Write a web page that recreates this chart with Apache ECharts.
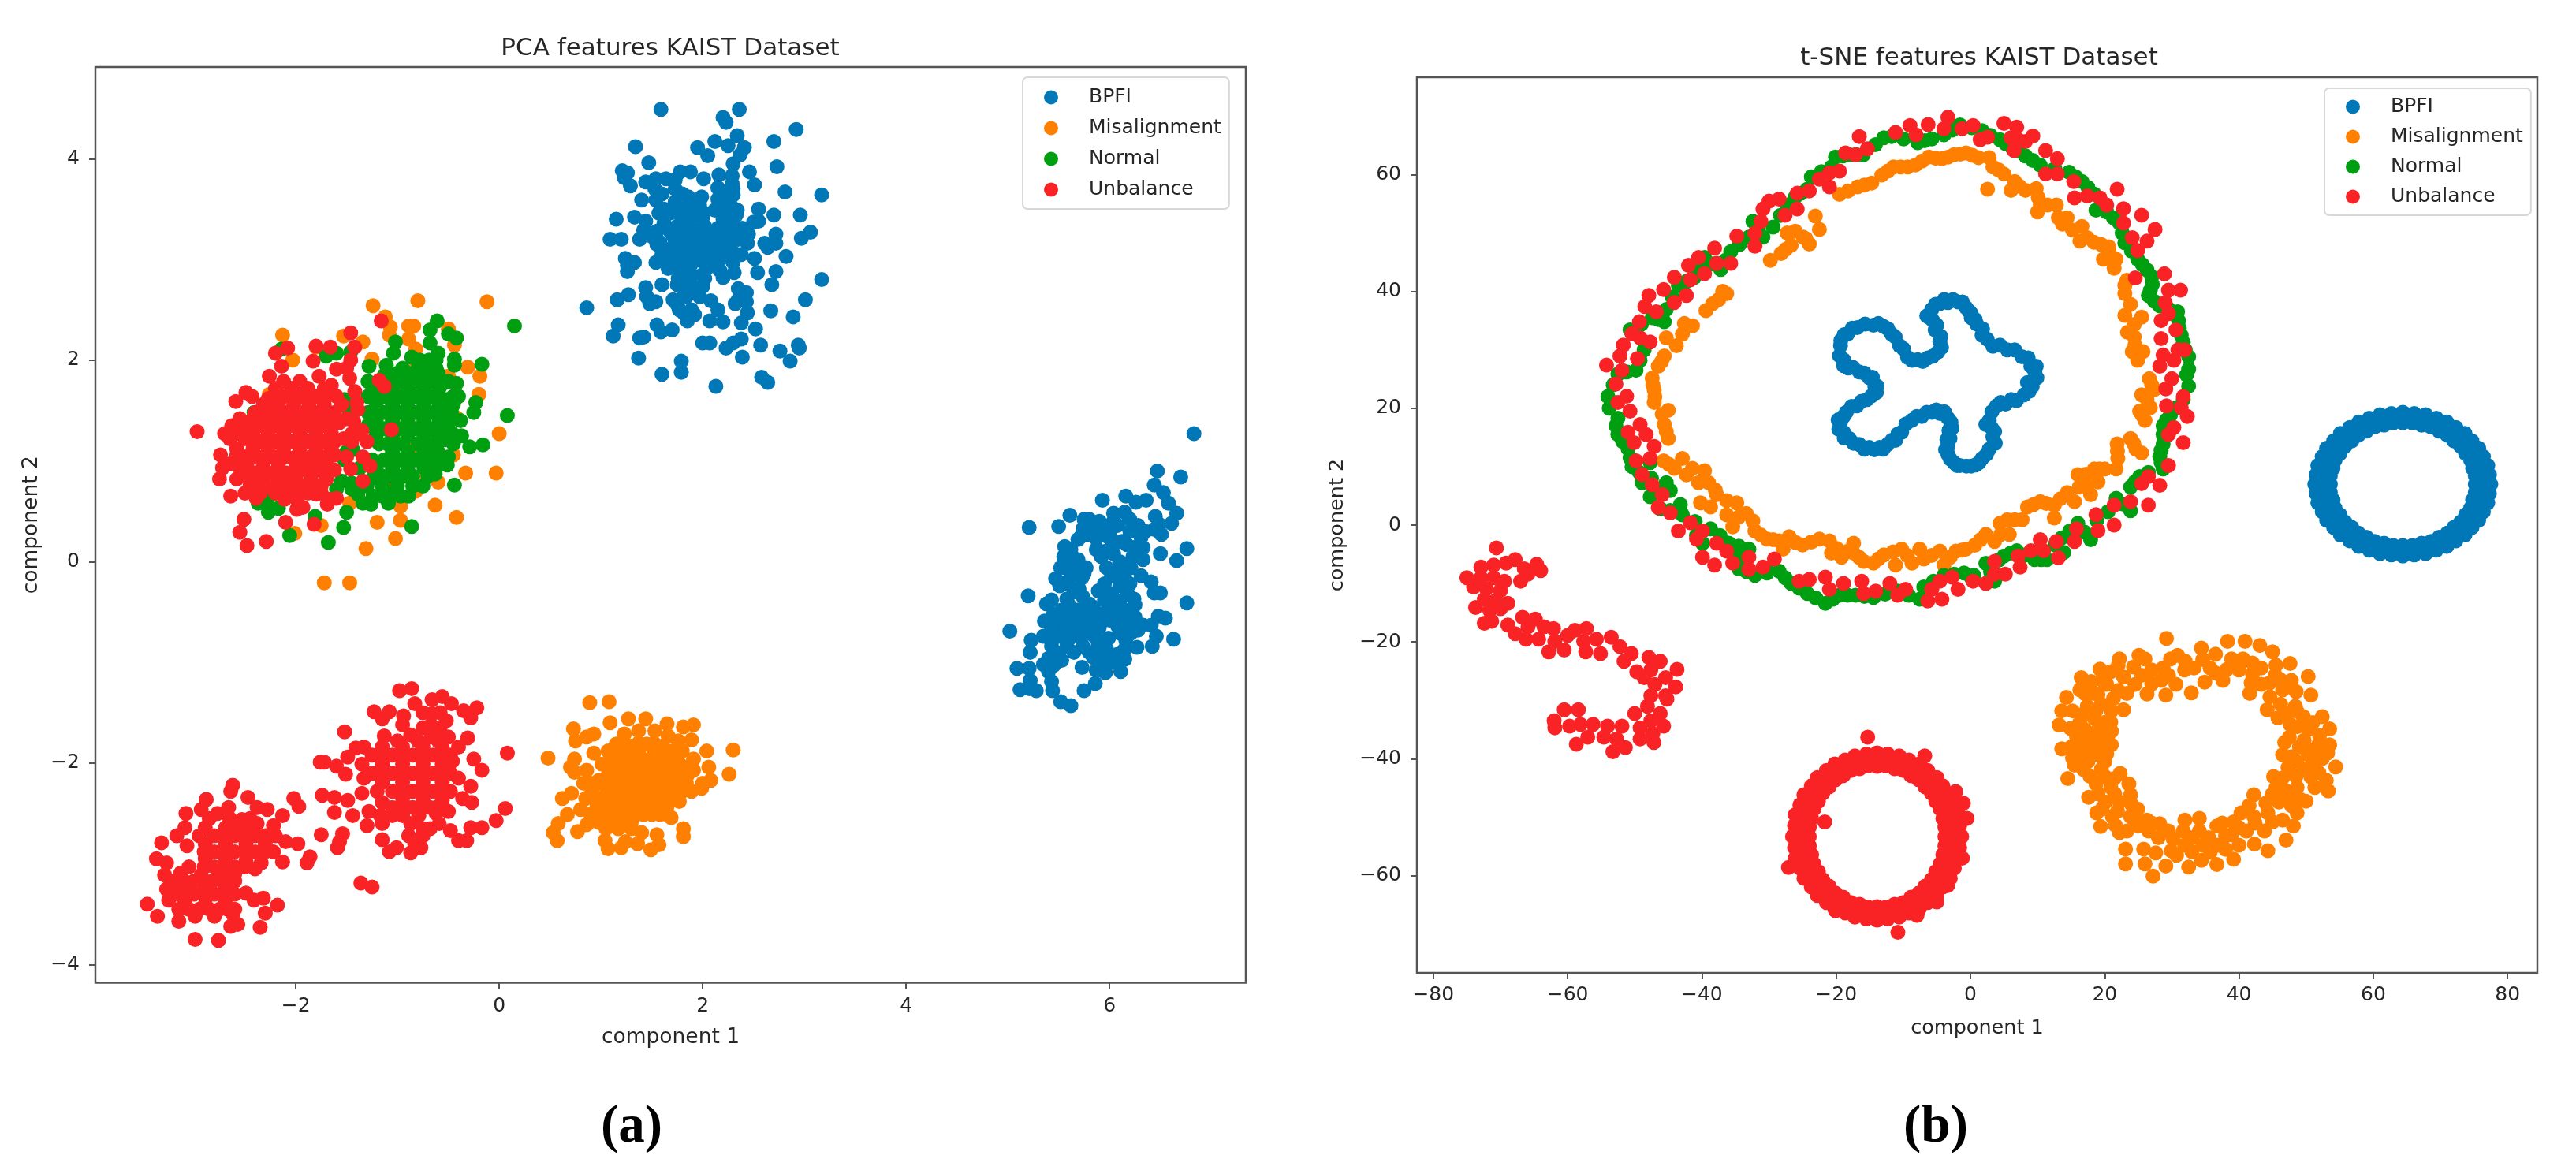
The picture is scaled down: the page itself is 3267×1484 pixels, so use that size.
<!DOCTYPE html>
<html><head><meta charset="utf-8"><title>KAIST features</title>
<script src="https://cdn.jsdelivr.net/npm/echarts@6/dist/echarts.min.js"></script>
<style>html,body{margin:0;padding:0;background:#fff}#c{width:3267px;height:1484px}</style></head>
<body><div id="c"></div>
<script>
const categories = ['BPFI','Misalignment','Normal','Unbalance'];
const pcaXTicks = [-2,0,2,4,6];
const pcaYTicks = [-4,-2,0,2,4];
const tsneXTicks = [-80,-60,-40,-20,0,20,40,60,80];
const tsneYTicks = [-60,-40,-20,0,20,40,60];

const pcaBpfi = [[1.59,4.49],[2.36,4.49],[2.20,4.41],[2.23,4.36],[2.92,4.29],[2.34,4.23],[2.12,4.17],[2.70,4.17],[1.34,4.12],[1.95,4.11],[2.25,4.13],[2.41,4.11],[2.05,4.03],[2.37,4.04],[1.47,3.96],[2.30,3.95],[2.73,3.92],[1.21,3.88],[1.26,3.86],[1.23,3.81],[1.29,3.73],[2.46,3.87],[2.51,3.74],[1.78,3.87],[1.88,3.87],[2.01,3.80],[2.16,3.84],[1.44,3.77],[1.54,3.80],[1.64,3.80],[1.73,3.79],[2.29,3.83],[2.81,3.67],[3.17,3.64],[1.40,3.59],[1.53,3.70],[1.54,3.59],[1.73,3.70],[2.15,3.71],[2.29,3.75],[2.30,3.64],[2.15,3.60],[2.25,3.57],[1.86,3.62],[1.99,3.62],[1.73,3.57],[1.97,3.54],[1.84,3.51],[2.34,3.49],[2.55,3.50],[2.70,3.44],[2.96,3.44],[1.33,3.42],[1.15,3.40],[1.44,3.38],[1.57,3.46],[1.68,3.46],[1.81,3.41],[1.94,3.44],[2.12,3.49],[2.22,3.49],[2.33,3.44],[2.50,3.37],[2.55,3.38],[1.62,3.36],[1.75,3.33],[1.89,3.33],[2.02,3.33],[2.15,3.31],[2.28,3.33],[2.39,3.31],[1.42,3.29],[3.06,3.27],[2.97,3.21],[2.72,3.25],[1.09,3.20],[1.20,3.20],[1.38,3.20],[1.55,3.15],[1.71,3.23],[1.84,3.20],[1.97,3.23],[2.10,3.18],[2.22,3.18],[2.35,3.20],[2.44,3.16],[2.61,3.16],[2.72,3.16],[2.64,3.12],[1.67,3.10],[1.79,3.10],[1.91,3.12],[2.04,3.10],[2.17,3.10],[2.30,3.07],[2.38,3.05],[2.82,3.03],[2.51,3.01],[1.24,3.01],[1.33,2.97],[1.26,2.94],[1.26,2.88],[1.54,2.97],[1.64,2.99],[1.76,2.99],[1.97,2.99],[2.10,3.02],[2.20,3.02],[1.66,2.91],[1.82,2.91],[2.04,2.91],[2.17,2.89],[2.31,2.87],[2.54,2.87],[2.72,2.88],[3.17,2.80],[2.68,2.75],[1.76,2.81],[1.89,2.84],[2.02,2.81],[2.20,2.82],[1.44,2.72],[1.60,2.75],[1.81,2.71],[1.94,2.71],[2.35,2.71],[2.43,2.67],[1.27,2.65],[1.16,2.60],[1.45,2.63],[1.54,2.58],[1.48,2.56],[1.71,2.60],[1.84,2.63],[1.97,2.63],[2.08,2.59],[2.35,2.60],[2.32,2.56],[2.43,2.58],[3.01,2.60],[0.86,2.52],[2.67,2.49],[1.77,2.50],[1.89,2.50],[2.15,2.50],[2.44,2.47],[2.89,2.43],[1.85,2.39],[2.07,2.39],[2.20,2.38],[2.38,2.37],[1.17,2.35],[1.55,2.35],[1.70,2.30],[1.59,2.28],[2.52,2.31],[1.12,2.24],[1.38,2.22],[1.42,2.23],[2.38,2.21],[2.00,2.17],[2.07,2.17],[2.30,2.17],[2.23,2.12],[2.57,2.15],[2.94,2.15],[2.95,2.12],[2.76,2.09],[1.37,2.02],[2.39,2.03],[2.86,1.99],[1.79,1.99],[1.79,1.88],[1.60,1.86],[2.58,1.83],[2.64,1.78],[2.13,1.74],
[1.6,3.65],[1.8,3.65],[1.9,3.55],[1.62,3.5],[1.75,3.47],[1.88,3.47],[2.0,3.47],[1.55,3.28],[1.68,3.28],[1.82,3.27],[1.95,3.27],[2.08,3.27],[2.22,3.25],[2.35,3.25],[1.5,3.23],[1.6,3.05],[1.73,3.05],[1.85,3.05],[1.98,3.05],[2.1,3.15],[2.25,3.12],[1.58,3.17],[1.74,3.16],[1.86,3.16],[1.98,3.16],[2.15,2.97],[2.3,2.97],[1.7,2.93],[1.88,2.94],[2.0,2.85],[1.75,2.75],[1.88,2.77],[2.0,2.73],[1.82,2.66],[1.75,2.55],[1.82,2.46],[1.92,2.45],[2.3,3.28],[2.45,3.25],[2.0,3.42],[2.2,3.40],[2.28,3.53],[2.2,3.66],[2.3,3.7],
[6.83,1.27],[6.47,0.90],[6.70,0.84],[6.44,0.76],[6.53,0.685],[6.16,0.65],[5.93,0.61],[6.36,0.61],[6.26,0.59],[6.58,0.58],[5.61,0.46],[5.80,0.42],[6.04,0.48],[6.15,0.49],[6.45,0.45],[6.66,0.48],[5.21,0.34],[5.50,0.35],[5.74,0.33],[5.95,0.35],[6.08,0.36],[6.28,0.36],[6.49,0.37],[6.61,0.38],[6.51,0.27],[6.44,0.32],[5.69,0.22],[5.87,0.23],[6.00,0.25],[6.31,0.24],[5.56,0.15],[6.76,0.13],[5.87,0.12],[6.02,0.15],[6.33,0.14],[6.50,0.08],[6.66,0.01],[5.55,0.05],[5.69,0.02],[5.92,0.05],[6.23,0.05],[6.33,0.02],[5.52,-0.06],[5.66,-0.08],[5.77,-0.06],[5.97,-0.06],[6.10,-0.06],[6.21,-0.06],[5.47,-0.17],[5.60,-0.19],[5.73,-0.16],[6.02,-0.14],[6.15,-0.16],[6.31,-0.14],[6.41,-0.2],[5.51,-0.24],[5.70,-0.27],[6.44,-0.31],[6.50,-0.31],[5.20,-0.34],[5.43,-0.38],[5.38,-0.42],[5.58,-0.37],[5.74,-0.35],[5.89,-0.29],[6.02,-0.32],[6.18,-0.32],[6.24,-0.37],[6.76,-0.41],[5.53,-0.48],[5.69,-0.48],[5.84,-0.45],[6.00,-0.45],[6.15,-0.48],[6.20,-0.5],[6.48,-0.54],[6.55,-0.56],[5.36,-0.59],[5.51,-0.61],[5.66,-0.58],[5.82,-0.58],[6.00,-0.58],[6.18,-0.61],[6.33,-0.63],[6.41,-0.63],[5.02,-0.69],[5.35,-0.74],[5.51,-0.74],[5.64,-0.68],[5.79,-0.71],[6.10,-0.71],[6.21,-0.71],[6.46,-0.74],[6.63,-0.77],[5.23,-0.78],[5.22,-0.9],[5.43,-0.84],[5.58,-0.84],[5.74,-0.84],[5.89,-0.82],[5.97,-0.87],[6.15,-0.87],[6.27,-0.85],[6.42,-0.84],[5.40,-0.96],[5.53,-0.98],[5.84,-0.95],[6.00,-0.95],[6.15,-0.97],[5.35,-1.02],[5.73,-1.05],[5.87,-1.08],[5.96,-1.10],[6.11,-1.09],[5.09,-1.06],[5.21,-1.06],[5.40,-1.09],[5.22,-1.18],[5.43,-1.19],[5.86,-1.21],[5.12,-1.27],[5.21,-1.26],[5.28,-1.28],[5.44,-1.28],[5.75,-1.28],[5.52,-1.39],[5.62,-1.43],
[5.8,0.27],[5.95,0.1],[5.62,-0.01],[5.75,-0.12],[5.62,-0.13],[5.55,-0.22],[5.65,-0.3],[5.8,-0.42],[5.95,-0.38],[6.1,-0.39],[6.25,-0.43],[5.6,-0.43],[5.45,-0.52],[5.6,-0.53],[5.75,-0.52],[5.9,-0.52],[6.08,-0.53],[6.25,-0.55],[5.43,-0.66],[5.58,-0.66],[5.73,-0.64],[5.9,-0.65],[6.08,-0.64],[6.28,-0.68],[5.43,-0.79],[5.6,-0.77],[5.72,-0.76],[5.86,-0.75],[5.99,-0.76],[6.16,-0.78],[5.5,-0.91],[5.65,-0.9],[5.8,-0.9],[5.92,-0.91],[6.08,-0.92],[5.45,-1.03],[5.92,-1.03],[6.05,-1.0],[6.04,0.08],[6.12,0.2],[6.2,0.3],[6.1,0.0],[5.98,0.25],[5.75,0.42],[6.17,0.17],[6.1,-.24],[6.2,-.22],[5.95,-.22],[5.9,.4],[6.02,.33],[5.85,.33],[5.62,.12],[5.72,.25],[6.24,.14],[6.35,.3],[6.04,.4],[6.2,.42]];

const pcaMisalignment = [[0.89,-1.40],[1.08,-1.39],[1.09,-1.60],[1.27,-1.56],[1.44,-1.56],[1.65,-1.61],[1.81,-1.64],[1.91,-1.62],[0.73,-1.66],[0.93,-1.71],[0.75,-1.78],[0.86,-1.74],[1.23,-1.71],[1.37,-1.68],[1.53,-1.68],[1.66,-1.73],[1.89,-1.77],[1.76,-1.78],[2.30,-1.87],[2.04,-1.88],[0.93,-1.90],[0.48,-1.95],[1.15,-1.81],[1.29,-1.83],[1.45,-1.81],[1.60,-1.83],[1.73,-1.88],[0.74,-1.96],[0.70,-2.04],[0.74,-2.09],[1.91,-1.96],[2.26,-2.11],[2.06,-2.04],[2.08,-2.17],[0.86,-2.07],[1.01,-2.01],[1.17,-1.96],[1.32,-1.96],[1.48,-1.96],[1.63,-1.96],[1.76,-1.99],[1.91,-2.07],[0.83,-2.20],[0.98,-2.17],[1.14,-2.12],[1.29,-2.12],[1.45,-2.12],[1.60,-2.12],[1.76,-2.15],[1.99,-2.25],[1.89,-2.28],[0.71,-2.30],[0.62,-2.35],[0.91,-2.30],[1.06,-2.28],[1.22,-2.28],[1.37,-2.28],[1.53,-2.28],[1.68,-2.30],[1.77,-2.38],[0.67,-2.51],[0.80,-2.46],[0.96,-2.43],[1.11,-2.43],[1.27,-2.43],[1.42,-2.43],[1.58,-2.43],[1.69,-2.54],[0.58,-2.60],[0.53,-2.69],[0.57,-2.77],[0.77,-2.68],[0.86,-2.61],[0.98,-2.59],[1.11,-2.59],[1.22,-2.54],[1.40,-2.69],[1.55,-2.71],[1.81,-2.65],[1.81,-2.73],[1.04,-2.77],[1.07,-2.85],[1.20,-2.84],[1.24,-2.78],[1.36,-2.80],[1.57,-2.81],[1.49,-2.86],
[1.07,-1.88],[1.21,-1.88],[1.37,-1.88],[1.52,-1.88],[1.67,-1.88],[1.8,-1.88],[1.07,-2.04],[1.21,-2.04],[1.37,-2.04],[1.52,-2.04],[1.68,-2.04],[1.84,-2.04],[0.9,-2.2],[1.06,-2.2],[1.21,-2.2],[1.37,-2.2],[1.52,-2.2],[1.68,-2.2],[1.84,-2.2],[2.0,-2.2],[.85,-2.35],[.98,-2.35],[1.14,-2.35],[1.3,-2.35],[1.45,-2.35],[1.6,-2.35],[1.72,-2.35],[.9,-2.51],[1.03,-2.51],[1.19,-2.51],[1.35,-2.51],[1.5,-2.51],[1.65,-2.51],[1.05,-2.65],[1.17,-2.65],[1.3,-2.65],
[1.1,-1.96],[1.25,-1.96],[1.4,-1.96],[1.56,-1.96],[1.7,-1.96],[1.07,-2.12],[1.22,-2.12],[1.37,-2.12],[1.52,-2.12],[1.68,-2.12],[1.85,-2.12],[1.14,-2.28],[1.3,-2.28],[1.45,-2.28],[1.6,-2.28],[1.8,-2.28],[1.03,-2.43],[1.19,-2.43],[1.35,-2.43],[1.5,-2.43],[1.65,-2.43],[1.05,-2.58],[1.17,-2.58],[1.3,-2.58],[1.22,-1.8],[1.37,-1.8],[1.52,-1.8],[1.14,-2.04],[1.29,-2.04],[1.45,-2.04],[1.6,-2.04],[1.76,-2.04],[1.14,-2.2],[1.29,-2.2],[1.45,-2.2],[1.6,-2.2],[1.76,-2.2],[.98,-2.2],[1.06,-2.35],[1.22,-2.35],[1.37,-2.35],[1.53,-2.35],[1.11,-2.51],[1.27,-2.51],[1.42,-2.51],[1.58,-2.51],
[-0.80,2.59],[-0.12,2.58],[-1.24,2.54],[-1.12,2.43],[-1.07,2.33],[-0.89,2.34],[-0.84,2.34],[-1.08,2.25],[-0.89,2.21],[-2.13,2.25],[-1.53,2.24],[-1.34,2.18],[-1.80,2.13],[-2.03,2.00],[-1.25,2.01],[-0.82,2.11],[-0.50,2.31],[-0.44,2.15],[-0.31,1.93],[-0.19,1.84],[-0.50,1.84],[-0.20,1.66],[-0.42,1.43],[0,1.27],[-0.45,1.06],[-0.33,0.88],[-0.03,0.88],[-0.60,0.79],[-0.71,0.84],[-0.63,0.56],[-0.42,0.44],[-0.97,0.55],[-0.97,0.41],[-1.03,0.65],[-1.20,0.39],[-1.02,0.23],[-1.31,0.13],[-1.72,-0.21],[-1.47,-0.21],[-1.75,0.36],[-2.01,0.28],[-2.22,0.67],[-2.26,1.66],[-1.47,0.58],[-0.82,0.70],[-1.06,0.80],[-0.55,1.22],[-0.85,1.15],[-0.82,1.92],[-0.85,1.86]];

const pcaNormal = [[0.15,2.34],[-0.61,2.39],[-0.68,2.30],[-0.50,2.26],[-0.42,2.22],[-1.02,2.18],[-0.68,2.17],[-0.60,2.07],[-0.44,2.01],[-0.44,1.95],[-0.17,1.96],[-1.60,2.07],[-1.70,2.04],[-2.14,2.11],[-1.46,2.08],[-1.04,2.07],[-0.86,2.03],[-0.69,2.00],[-1.28,1.94],[-1.11,1.95],[-0.95,1.92],[-0.62,1.92],[-1.29,1.79],[-1.13,1.85],[-0.98,1.79],[-0.82,1.79],[-0.67,1.79],[-0.55,1.77],[-0.42,1.77],[-0.40,1.64],[-0.23,1.58],[-0.25,1.48],[-1.71,1.71],[-1.52,1.61],[-1.49,1.53],[-1.29,1.64],[-1.13,1.64],[-0.98,1.64],[-0.82,1.64],[-0.67,1.64],[-0.51,1.61],[-1.29,1.48],[-1.13,1.48],[-0.98,1.48],[-0.82,1.48],[-0.67,1.48],[-0.57,1.48],[0.08,1.45],[-0.38,1.40],[-1.29,1.35],[-1.13,1.32],[-0.98,1.32],[-0.82,1.32],[-0.67,1.32],[-0.46,1.27],[-0.37,1.25],[-0.53,1.21],[-0.29,1.14],[-0.16,1.16],[-1.18,1.17],[-1.03,1.17],[-0.72,1.17],[-1.13,1.01],[-0.98,1.01],[-0.82,1.01],[-0.67,1.02],[-0.50,1.04],[-0.51,0.96],[-0.63,0.87],[-1.50,1.09],[-1.44,1.11],[-1.71,0.98],[-1.52,1.01],[-1.55,0.80],[-1.37,0.93],[-1.24,0.83],[-1.08,0.85],[-0.93,0.85],[-0.44,0.76],[-1.39,0.67],[-1.24,0.65],[-1.08,0.67],[-0.89,0.65],[-1.03,0.67],[-1.34,0.58],[-1.26,0.57],[-1.09,0.58],[-1.50,0.49],[-1.53,0.34],[-0.86,0.35],[-1.68,0.19],[-2.06,0.26],[-1.81,0.45],[-2.27,0.49],[-2.28,0.61],[-2.37,0.58],[-2.17,0.53],[-2.41,1.48],[-1.86,0.80],
[-1.21,1.72],[-1.05,1.72],[-.9,1.72],[-.74,1.72],[-.59,1.72],[-1.21,1.56],[-1.05,1.56],[-.9,1.56],[-.74,1.56],[-.59,1.56],[-.45,1.56],[-1.21,1.4],[-1.05,1.4],[-.9,1.4],[-.74,1.4],[-.59,1.4],[-.5,1.4],[-1.21,1.25],[-1.05,1.25],[-.9,1.25],[-.74,1.25],[-.6,1.25],[-1.05,1.09],[-.9,1.09],[-.74,1.09],[-.6,1.09],[-1.21,.93],[-1.05,.93],[-.9,.93],[-.74,.93],[-.62,.93],[-1.3,.75],[-1.15,.75],[-1,.75],[-.85,.75],[-.75,.75],[-1,1.87],[-.9,1.87],[-.75,1.87],[-.6,1.87],[-.78,2],[-.62,2],[-1.45,.72],[-1.6,.72],
[-1.05,1.79],[-.9,1.79],[-.74,1.79],[-.6,1.79],[-.5,1.79],[-1.05,1.64],[-.9,1.64],[-.74,1.64],[-.6,1.64],[-.45,1.64],[-1.2,1.64],[-1.05,1.48],[-.9,1.48],[-.74,1.48],[-.6,1.48],[-.47,1.48],[-1.2,1.48],[-1.05,1.32],[-.9,1.32],[-.74,1.32],[-.6,1.32],[-.5,1.32],[-1.2,1.32],[-1.1,1.17],[-.95,1.17],[-.8,1.17],[-.63,1.17],[-.45,1.17],[-1.05,1.01],[-.9,1.01],[-.74,1.01],[-.6,1.01],[-1.25,1.01],[-1,.85],[-.85,.85],[-.7,.85],[-1.15,.85],[-.8,1.92],[-.7,1.92],[-1.15,.65],[-.97,.65],[-1.45,.78],[-1.3,.78]];

const pcaUnbalance = [[-1.16,2.39],[-1.46,2.27],[-1.42,2.13],[-2.08,2.12],[-2.20,2.07],[-1.80,2.14],[-1.66,2.13],[-1.83,1.99],[-1.46,2.00],[-2.14,1.94],[-1.60,1.91],[-1.50,1.92],[-2.26,1.84],[-1.18,1.80],[-1.13,1.74],[-1.77,1.84],[-1.47,1.82],[-2.49,1.68],[-2.43,1.64],[-2.59,1.59],[-2.27,1.62],[-2.12,1.79],[-1.96,1.79],[-1.65,1.75],[-2.12,1.64],[-1.96,1.64],[-1.80,1.64],[-1.60,1.64],[-1.42,1.69],[-1.40,1.58],[-2.97,1.29],[-2.40,1.48],[-2.24,1.48],[-2.09,1.48],[-1.93,1.48],[-1.78,1.48],[-1.62,1.48],[-1.39,1.51],[-2.63,1.35],[-2.50,1.36],[-2.35,1.35],[-2.19,1.35],[-2.04,1.35],[-1.88,1.35],[-1.73,1.35],[-1.57,1.38],[-1.43,1.39],[-1.06,1.31],[-2.65,1.22],[-2.50,1.22],[-2.35,1.19],[-2.19,1.19],[-2.04,1.19],[-1.88,1.19],[-1.73,1.19],[-1.53,1.22],[-1.37,1.27],[-1.30,1.19],[-2.74,1.06],[-2.58,1.06],[-2.40,1.04],[-2.24,1.04],[-2.09,1.04],[-1.93,1.04],[-1.78,1.06],[-1.62,1.06],[-1.34,1.04],[-1.27,0.95],[-2.72,0.93],[-2.55,0.93],[-2.40,0.88],[-2.24,0.88],[-2.09,0.88],[-1.93,0.91],[-1.78,0.91],[-1.62,0.91],[-1.46,0.92],[-2.75,0.82],[-2.58,0.82],[-2.45,0.75],[-2.30,0.75],[-2.09,0.75],[-1.93,0.75],[-1.75,0.75],[-1.34,0.80],[-2.64,0.65],[-2.39,0.63],[-2.11,0.62],[-1.99,0.62],[-1.80,0.67],[-1.68,0.62],[-1.99,0.52],[-1.93,0.54],[-1.69,0.57],[-1.60,0.63],[-2.51,0.42],[-2.10,0.39],[-1.82,0.37],[-2.55,0.29],[-2.29,0.20],[-2.48,0.16],
[-2.32,1.56],[-2.17,1.56],[-2.02,1.56],[-1.87,1.56],[-1.72,1.56],[-1.55,1.56],[-2.55,1.42],[-2.42,1.42],[-2.27,1.42],[-2.12,1.42],[-1.96,1.42],[-1.8,1.42],[-1.65,1.42],[-1.5,1.42],[-2.7,1.27],[-2.58,1.27],[-2.42,1.27],[-2.27,1.27],[-2.12,1.27],[-1.96,1.27],[-1.8,1.27],[-1.65,1.27],[-1.45,1.27],[-2.58,1.12],[-2.42,1.12],[-2.27,1.12],[-2.12,1.12],[-1.96,1.12],[-1.8,1.12],[-1.65,1.12],[-2.65,.97],[-2.48,.97],[-2.32,.97],[-2.17,.97],[-2,.97],[-1.85,.97],[-1.7,.97],[-2.45,.82],[-2.32,.82],[-2.17,.82],[-2,.82],[-1.85,.82],[-1.7,.82],[-2.5,.68],[-2.35,.68],[-2.2,.68],[-2.03,.68],[-1.88,.68],[-1.75,.68],[-2.2,1.72],[-2.04,1.72],[-1.88,1.72],[-1.72,1.72],
[-2.32,1.48],[-2.17,1.48],[-2,1.48],[-1.85,1.48],[-1.7,1.48],[-2.42,1.35],[-2.27,1.35],[-2.12,1.35],[-1.96,1.35],[-1.8,1.35],[-1.65,1.35],[-2.42,1.19],[-2.27,1.19],[-2.12,1.19],[-1.96,1.19],[-1.8,1.19],[-1.62,1.19],[-1.45,1.19],[-2.5,1.04],[-2.32,1.04],[-2.17,1.04],[-2,1.04],[-1.85,1.04],[-1.7,1.04],[-1.5,1.04],[-2.48,.88],[-2.32,.88],[-2.17,.88],[-2,.88],[-1.85,.88],[-1.7,.88],[-2.38,.75],[-2.2,.75],[-2,.75],[-1.85,.75],[-2.05,1.64],[-1.88,1.64],[-1.7,1.64],[-2.2,1.64],[-1.35,1.3],
[-0.98,-1.28],[-0.86,-1.26],[-0.83,-1.41],[-0.66,-1.37],[-0.56,-1.34],[-0.47,-1.41],[-0.22,-1.45],[-0.35,-1.48],[-0.28,-1.55],[-1.23,-1.49],[-1.08,-1.49],[-0.94,-1.53],[-1.15,-1.56],[-0.66,-1.51],[-0.95,-1.62],[-0.52,-1.58],[-0.67,-1.62],[-1.52,-1.69],[-1.13,-1.73],[-0.87,-1.72],[-0.67,-1.74],[-0.50,-1.74],[-0.31,-1.75],[-1.41,-1.85],[-1.33,-1.84],[-1.15,-1.84],[-0.95,-1.84],[-0.75,-1.84],[-0.56,-1.84],[-0.40,-1.84],[0.08,-1.90],[-1.49,-1.94],[-1.76,-1.99],[-1.72,-1.99],[-1.60,-2.03],[-1.35,-2.01],[-1.15,-2.01],[-0.95,-2.01],[-0.75,-2.01],[-0.56,-2.01],[-0.46,-1.98],[-0.25,-1.96],[-0.17,-2.07],[-1.51,-2.11],[-1.33,-2.15],[-1.15,-2.19],[-0.95,-2.19],[-0.75,-2.19],[-0.56,-2.19],[-0.40,-2.15],[-0.28,-2.23],[-1.35,-2.30],[-1.74,-2.32],[-1.62,-2.34],[-1.49,-2.37],[-0.36,-2.35],[-0.27,-2.39],[-1.15,-2.39],[-0.95,-2.35],[-0.75,-2.37],[-0.56,-2.37],[-1.62,-2.49],[-1.44,-2.52],[-1.28,-2.48],[-1.17,-2.52],[-0.79,-2.52],[-0.62,-2.50],[-0.50,-2.48],[0.06,-2.45],[-0.03,-2.57],[-1.30,-2.62],[-1.15,-2.60],[-0.87,-2.60],[-0.59,-2.60],[-0.48,-2.67],[-0.28,-2.64],[-0.17,-2.64],[-1.75,-2.71],[-1.54,-2.70],[-0.89,-2.72],[-0.75,-2.72],[-1.57,-2.78],[-1.15,-2.76],[-0.83,-2.80],[-0.40,-2.77],[-0.32,-2.77],[-1.59,-2.84],[-1.08,-2.88],[-1.01,-2.84],[-0.87,-2.89],[-0.77,-2.84],[-1.36,-3.19],[-1.25,-3.23],
[-1.25,-1.92],[-1.05,-1.92],[-.85,-1.92],[-.65,-1.92],[-.48,-1.92],[-1.25,-2.1],[-1.05,-2.1],[-.85,-2.1],[-.65,-2.1],[-.48,-2.1],[-1.05,-2.28],[-.85,-2.28],[-.65,-2.28],[-.48,-2.28],[-1.05,-2.44],[-.9,-2.44],[-.85,-2.44],[-.68,-2.44],[-.55,-2.44],[-1,-1.78],[-.8,-1.78],[-.6,-1.78],[-.75,-1.65],[-.58,-1.65],[-.58,-1.5],[-.75,-1.5],[-.75,-2.65],[-.68,-2.65],
[-1.15,-1.92],[-.95,-1.92],[-.75,-1.92],[-.56,-1.92],[-1.15,-2.1],[-.95,-2.1],[-.75,-2.1],[-.56,-2.1],[-.95,-2.28],[-.75,-2.28],[-.56,-2.28],[-1.2,-2.28],[-.95,-2.44],[-.78,-2.44],[-.62,-2.44],[-.95,-2.52],[-1.05,-2.52],
[-2.62,-2.22],[-2.64,-2.28],[-2.88,-2.36],[-2.47,-2.34],[-2.02,-2.35],[-1.97,-2.43],[-2.66,-2.44],[-2.93,-2.46],[-2.77,-2.50],[-2.38,-2.44],[-2.28,-2.46],[-2.13,-2.52],[-3.08,-2.50],[-2.53,-2.56],[-2.38,-2.60],[-2.22,-2.62],[-3.09,-2.64],[-2.89,-2.64],[-2.69,-2.64],[-3.17,-2.72],[-3.32,-2.79],[-3.07,-2.82],[-2.89,-2.80],[-2.69,-2.80],[-2.49,-2.80],[-2.30,-2.80],[-2.10,-2.78],[-1.98,-2.80],[-3.37,-2.95],[-3.27,-2.99],[-2.89,-2.95],[-2.69,-2.95],[-2.49,-2.97],[-2.34,-2.99],[-2.22,-2.88],[-2.13,-2.98],[-1.86,-2.93],[-1.89,-2.99],[-3.29,-3.11],[-3.13,-3.09],[-2.93,-3.11],[-2.73,-3.13],[-2.40,-3.05],[-3.27,-3.25],[-3.09,-3.23],[-2.89,-3.23],[-2.69,-3.23],[-2.49,-3.29],[-2.32,-3.34],[-2.41,-3.36],[-2.18,-3.41],[-3.46,-3.40],[-3.25,-3.36],[-3.09,-3.38],[-2.89,-3.40],[-2.69,-3.38],[-2.30,-3.49],[-3.36,-3.52],[-2.99,-3.52],[-2.80,-3.52],[-2.62,-3.50],[-3.15,-3.57],[-2.57,-3.60],[-2.64,-3.62],[-2.35,-3.63],[-2.99,-3.75],[-2.76,-3.76],
[-2.95,-2.72],[-2.8,-2.72],[-2.6,-2.72],[-2.4,-2.72],[-2.2,-2.72],[-2.8,-2.88],[-2.6,-2.88],[-2.4,-2.88],[-2.8,-3.03],[-2.6,-3.03],[-3.2,-3.17],[-3,-3.17],[-2.82,-3.17],[-2.6,-3.17],[-3.18,-3.3],[-3,-3.3],[-2.8,-3.3],[-2.6,-3.3],[-2.95,-3.45],[-2.75,-3.45],[-2.6,-3.45],[-3.15,-3.45],[-2.65,-2.55],[-2.45,-2.55],[-2.85,-2.55],[-2.6,-3.1],
[-2.49,-2.64],[-2.6,-2.64],[-2.7,-2.72],[-2.5,-2.72],[-2.3,-2.72],[-2.7,-2.88],[-2.5,-2.88],[-2.9,-2.88],[-2.3,-2.88],[-2.7,-3.03],[-2.9,-3.03],[-3.05,-3.03],[-2.5,-3.03],[-2.9,-3.17],[-2.7,-3.17],[-3.1,-3.17],[-2.9,-3.3],[-2.7,-3.3],[-3.1,-3.3],[-2.85,-3.45],[-2.67,-3.45],[-3.05,-3.45]];

const tsneBpfi = [[-6.05,35.5],[-5.75,36.9],[-4.55,37.9],[-3.35,38.1],[-1.85,38.2],[-0.65,37.2],[0.12,35.5],[0.12,36.2],[0.93,34.4],[1.74,32.5],[3.35,30.6],[5.5,30.0],[7.67,28.8],[9.0,27.2],[9.6,26.2],[8.5,24.4],[8.75,22.9],[6.86,21.3],[5.24,20.7],[3.9,20.4],[2.8,17.9],[3.1,16.7],[3.35,15.1],[2.8,13.0],[1.74,11.4],[0.77,10.3],[0.12,10.1],[-2.45,10.7],[-1.55,10.2],[-3.35,13.5],[-3.35,12.1],[-2.75,16.6],[-3.05,14.8],[-3.35,18.3],[-4.55,19.1],[-5.75,19.3],[-7.25,18.6],[-8.75,17.9],[-10.25,15.9],[-11.15,14.5],[-12.35,13.8],[-13.55,13.3],[-15.05,13.3],[-16.55,13.8],[-18.05,14.8],[-18.9,15.9],[-19.35,17.6],[-18.9,18.6],[-17.7,20.3],[-16.2,21.2],[-14.75,22.1],[-14.25,23.8],[-15.05,25.2],[-16.55,26.2],[-18.2,26.9],[-18.9,28.3],[-19.35,30.7],[-18.3,32.7],[-16.85,33.8],[-14.45,34.2],[-12.95,34.0],[-11.75,32.7],[-10.55,30.7],[-9.35,28.7],[-7.85,28.3],[-6.35,28.6],[-4.85,29.6],[-4.55,31.4],[-5.25,33.4],
[-6.5,35.8],[-5.2,37.8],[-3.9,38.6],[-2.6,38.6],[-1.2,38.2],[-.2,36.6],[.7,35.2],[1.8,33.6],[2.5,31.8],[4.4,30.8],[6.6,30],[8.6,28.6],[9.8,27.2],[9.9,25.2],[9.2,23.7],[8,22.3],[6.1,21.5],[4.5,21],[3.2,19.4],[2.3,17.2],[3.6,16],[3.7,14],[2.4,12.1],[1.3,10.7],[-.6,10.1],[-2,10.2],[-3,11.3],[-3.7,12.9],[-3.5,14.6],[-3.2,16.2],[-2.9,17.6],[-3.9,19.4],[-5.1,19.7],[-6.5,19.3],[-8,18.6],[-9.6,17.3],[-10.8,15.6],[-11.7,14.5],[-13,13],[-14.3,12.9],[-15.8,13],[-17.4,14],[-18.8,14.9],[-19.6,16.4],[-19.7,18],[-18.5,19.3],[-16.9,20.4],[-15.4,21.5],[-14,22.7],[-13.9,23.8],[-14.6,25.3],[-15.8,26],[-17.5,27],[-18.9,27.3],[-19.5,29],[-19.3,31.6],[-18.8,32.6],[-17.6,33.7],[-15.7,34.4],[-13.7,34.5],[-12.3,33.6],[-11.2,32.2],[-10,30.2],[-8.7,28.2],[-7.1,28],[-5.6,28.9],[-4.3,30.4],[-4.4,32.3],[-5,34.2],[-5.6,35],
[77.5,7],[77.05,10.2],[75.7,13.15],[73.66,15.7],[70.95,17.65],[67.8,18.9],[64.4,19.3],[61,18.9],[57.85,17.65],[55.1,15.7],[53.05,13.15],[51.75,10.2],[51.3,7],[51.75,3.8],[53.05,.85],[55.1,-1.7],[57.85,-3.65],[61,-4.9],[64.4,-5.3],[67.8,-4.9],[70.95,-3.65],[73.66,-1.7],[75.7,.85],[77.05,3.8],
[76.4,8.5],[75.6,11.4],[74,13.9],[71.8,16],[69,17.5],[66,18.3],[62.8,18.3],[59.8,17.5],[57,16],[54.8,13.9],[53.2,11.4],[52.4,8.5],[52.4,5.5],[53.2,2.6],[54.8,.1],[57,-2],[59.8,-3.5],[62.8,-4.3],[66,-4.3],[69,-3.5],[71.8,-2],[74,.1],[75.6,2.6],[76.4,5.5],
[75.2,7],[74.8,9.7],[73.75,12.25],[72,14.4],[69.8,16.1],[67.2,17.1],[64.4,17.5],[61.6,17.1],[59,16.1],[56.8,14.4],[55.05,12.25],[54,9.7],[53.6,7],[54,4.3],[55.05,1.75],[56.8,-.4],[59,-2.1],[61.6,-3.1],[64.4,-3.5],[67.2,-3.1],[69.8,-2.1],[72,-.4],[73.75,1.75],[74.8,4.3],
[77.3,8.6],[76.4,11.7],[74.7,14.4],[72.3,16.7],[69.4,18.3],[66.1,19.1],[62.7,19.1],[59.4,18.3],[56.5,16.7],[54.1,14.4],[52.4,11.7],[51.5,8.6],[51.5,5.4],[52.4,2.3],[54.1,-.4],[56.5,-2.7],[59.4,-4.3],[62.7,-5.1],[66.1,-5.1],[69.4,-4.3],[72.3,-2.7],[74.7,-.4],[76.4,2.3],[77.3,5.4],
[75.2,8.4],[74.5,11.1],[73,13.5],[71,15.4],[68.6,16.8],[65.8,17.5],[63,17.5],[60.2,16.8],[57.8,15.4],[55.8,13.5],[54.3,11.1],[53.6,8.4],[53.6,5.6],[54.3,2.9],[55.8,.5],[57.8,-1.4],[60.2,-2.8],[63,-3.5],[65.8,-3.5],[68.6,-2.8],[71,-1.4],[73,.5],[74.5,2.9],[75.2,5.6],
[76.5,7],[76.1,10],[74.9,12.7],[73,15.1],[70.45,16.9],[67.5,18],[64.4,18.4],[61.3,18],[58.35,16.9],[55.8,15.1],[53.9,12.7],[52.7,10],[52.3,7],[52.7,4],[53.9,1.3],[55.8,-1.1],[58.35,-2.9],[61.3,-4],[64.4,-4.4],[67.5,-4],[70.45,-2.9],[73,-1.1],[74.9,1.3],[76.1,4]];

const tsneMisalignment = [[29.2,-19.4],[38.3,-19.9],[40.9,-19.9],[43.1,-20.6],[45,-21.7],[34.4,-21.05],[36.5,-22.1],[47.6,-23.7],[50.3,-25.9],[50.7,-29.1],[22.2,-22.9],[25.1,-22.3],[19.3,-24.65],[16.5,-26.1],[16.3,-28.2],[14.3,-29.5],[13.6,-31.8],[13.2,-34.2],[13.6,-38.3],[15.5,-41.1],[14.5,-43.4],[17.6,-46.6],[18.8,-49.25],[19.4,-51.6],[22.2,-52.65],[23.1,-55.45],[23.1,-58],[26,-58],[25.8,-55.45],[27.6,-56.1],[29.1,-58.35],[27.2,-60.1],[29.9,-55.75],[32.5,-58.55],[34.4,-57.4],[36.7,-58.1],[39.2,-57.2],[40,-54.8],[42.3,-54.6],[44.3,-55.75],[47,-53.9],[48.1,-51.5],[48.65,-49.25],[50,-47.25],[53.3,-45.5],[53,-43.7],[54.4,-41.4],[53.2,-39],[53.5,-37.6],[53.5,-34.9],[52.4,-32.8],[16.3,-33.75],[18.45,-33.1],[20.1,-33.75],[15.8,-36.2],[17.9,-36.2],[19.8,-36.85],[16.3,-39.3],[18.45,-39.3],[20.3,-39.15],[16.8,-41.8],[19.5,-41.8],[21.4,-43.4],[18.7,-44.3],[20.9,-44.9],[23.6,-44.3],[23.85,-46.15],[20.1,-47.4],[22.2,-47.4],[24.9,-48.6],[21.15,-49.9],[23.85,-49.9],[26.3,-50.5],[28.2,-51.1],[23.3,-52.35],[26.55,-52.35],[29.5,-52.35],[31.95,-50.5],[34.1,-50.2],[31.7,-52.35],[34.1,-52.35],[36.7,-51.5],[40.3,-49.25],[39.2,-50.8],[42.2,-49.9],[44.3,-49.25],[45.95,-47.4],[47.8,-48],[42.2,-46.15],[44.9,-46.15],[47,-45.5],[45.15,-43.05],[48.65,-44.9],[51.3,-44.9],[47.3,-41.5],[49.7,-41.8],[51.9,-42.4],[47.8,-39.65],[50.3,-39.3],[52.4,-39.95],[46.8,-37.2],[49.7,-36.85],[51.9,-37.5],[47.6,-34.1],[50.3,-35],[48.65,-31.9],[48.4,-31],[44.2,-31.6],[46.2,-30.65],[44.6,-29.4],[46.5,-28.2],[47.8,-26.6],[41.6,-28.8],[43.3,-27.25],[45.4,-25.7],[43.3,-24.45],[40.6,-22.9],[38.9,-22.9],[37.6,-26.6],[40,-24.8],[32.9,-28.7],[34.9,-26.9],[33.3,-24.45],[35.7,-24.45],[30.6,-27.25],[29.1,-29.1],[28.4,-26.6],[29.8,-22.9],[30.85,-22.3],[28.7,-24.45],[31.9,-24.8],[26,-22.9],[26.3,-28.9],[25.5,-25.7],[22.8,-26],[23.3,-28.8],[20.9,-25.1],[20.3,-27.25],[18.45,-28.8],[22.8,-31.6],[20.9,-33.75],[19.5,-30.65],[17.4,-31],[31.9,-54.8],[34.6,-54.8],[36.8,-54.8],[38.9,-53],[41.1,-52.35],[43.8,-52.35],[46.5,-50.5],
[17,-35],[19,-35],[21,-35.3],[17,-37.8],[19,-37.8],[21,-37.6],[15,-38],[14.9,-34.8],[15.2,-31.8],[17.5,-40.5],[20,-40.5],[15.2,-39.8],[17.8,-43],[20,-43],[22.3,-42.5],[19,-46],[21.5,-46],[24,-47.8],[19.6,-48.6],[21.9,-49],[24.6,-50.5],[21.6,-51.4],[25,-51.5],[27,-51],[28,-53.5],[30.2,-53.7],[33,-53.5],[35.5,-53.5],[38,-53.2],[33,-55.9],[35.7,-56],[38,-55.5],[30.7,-56.5],[37.5,-51],[40,-51.8],[42.4,-51],[45,-50.8],[41.5,-48],[44,-47.6],[46.3,-45.7],[47.5,-47],[49.2,-47],[45.5,-45],[48.5,-43],[50.7,-43.1],[46.5,-43.3],[48.6,-40.5],[51,-40.8],[46.5,-39.3],[49,-38],[51,-38.5],[47.5,-36.3],[52,-36],[48.7,-34.5],[51,-33.8],[49.6,-32.8],[45.8,-33],[47,-32.3],[46.2,-26.5],[44.6,-27],[48.5,-28.5],[45.5,-24],[42,-25.5],[42,-23.6],[38.2,-24.7],[36.5,-25.3],[41.8,-27],[34.6,-23],[32,-23.3],[29.5,-25.7],[27,-24.8],[24.3,-24.3],[27,-27.2],[24.5,-27.3],[22,-24],[22,-28.3],[19.5,-26.5],[18,-26.8],[21.3,-29.7],[19,-29],[17.2,-29],[16.5,-32.5],[18.7,-31.8],[21,-31.8],
[-19.5,56.6],[-16.8,57.9],[-14.7,58.55],[-13.2,59.9],[-11.45,61.3],[-9.35,61.3],[-8.15,61.65],[-6.2,63],[-4.25,62.7],[-2.45,63.4],[-0.65,63.7],[-29.8,45.3],[-28.2,46.5],[-26.7,47.9],[-24.9,49.3],[-24,48.1],[-26.1,50.3],[-22.5,50.6],[-23.1,52.9],[-27.3,50],[-36.3,39.6],[-37.5,38.6],[-38.4,37.9],[-39.4,36.7],[-36.9,40],[-41.4,34.1],[-42.6,34.5],[-42.9,32.7],[-43.8,30.7],[-45.3,32.05],[-45.6,28.95],[-46.5,27.2],[-47.4,25.15],[-47.1,23.1],[-47.1,21],[-45,19.65],[-45.9,19],[-45.6,17.2],[-45,14.8],[-45.7,11],[-44.1,9.7],[-42.9,11.4],[-41.4,9.7],[-39.6,9.3],[-42.3,8.6],[-40.5,7.25],[-39,7.25],[-40.2,3.8],[-37.8,5.2],[-38.7,3.1],[-36.3,4.2],[-34.8,3.8],[-36.3,1.75],[-34.5,1.4],[-35.4,-.3],[-32.4,.7],[-32.1,-1],[-30.3,-2.4],[-28.5,-2.7],[-27,-2],[-27.9,-4.1],[-25,-3.4],[-22.5,-2.4],[-21,-2.7],[-20.7,-4.8],[-19.2,-5.5],[-17.4,-3.1],[-17.4,-4.8],[-15.9,-6.2],[-14.45,-6.5],[-12.9,-5.1],[-10.25,-4.1],[-11.15,-6.85],[-8.7,-6.5],[-7.55,-4.1],[-6.95,-5.8],[-4.55,-4.45],[-3.95,-6.85],[-2.15,-4.45],[-.65,-4.1],
[1.2,62.9],[2.8,62.9],[3.35,61.3],[2.55,57.5],[5,60.1],[6.6,58.8],[6.05,57.3],[8.2,57.3],[9.8,57.6],[10.1,56.05],[10.4,54.8],[10,53.6],[12.8,54.8],[13.1,52.6],[14.4,52.6],[15.2,50.5],[16.6,51.1],[16.3,48.6],[17.4,49.2],[19.5,48],[20.6,47.65],[19.8,45.5],[21.7,45.5],[21.4,43.95],[23.3,41.9],[23,39.6],[23.85,37.8],[23,35.9],[25.5,35.6],[24.4,34.35],[24.4,32.2],[24.1,29.7],[25.7,29.7],[24.9,28.2],[26.65,25.05],[27.4,23.2],[25.5,22.3],[26.8,20.1],[25.2,19.5],[26,17.9],[23.85,14.8],[24.65,13],[25.5,12.35],[21.85,13.9],[21.95,11.4],[21.7,9.6],[20,9.6],[18.45,9.6],[16,8.65],[19,7.4],[17.4,6.5],[17.9,5.2],[14.4,5.55],[15.5,4],[12.5,3.4],[10.4,4],[12.5,1.2],[8.5,3.1],[7.7,.9],[5.5,.9],[4.4,.3],[5.8,-1.6],[2.3,-1.6],[3.6,-2.8],[.66,-3.45],
[-18.2,57.2],[-15.8,58.2],[-12.3,60.6],[-10.4,61.3],[-7.2,62.3],[-5.2,62.8],[-3.3,63],[-1.5,63.5],[.3,63.3],[4.2,60.8],[7.3,58],[11.5,54.8],[13.7,51.5],[18.4,48.4],[20.7,46.5],[23,41],[23.4,33],[24.5,30.8],[27,24],[26.3,21.5],[25.6,18.8],[24.3,14],[21.9,12.7],[19.2,9.6],[17.2,8.7],[16.2,6.5],[13.4,4.5],[11.3,3.7],[9.4,3.5],[6.6,.9],[4.5,-1.6],[1.5,-2.5],[-44.9,10.4],[-38,6],[-33.4,2],[-31.2,-1.7],[-29.4,-2.5],[-26,-3],[-23.7,-2.9],[-19.9,-4],[-18.3,-4.5],[-16.6,-5.5],[-13.7,-5.8],[-11.5,-4.6],[-9.4,-5.2],[-5.8,-5.2],[-3,-5.5],[-1.3,-4.3],[-47.3,24],[-46,28],[-47,22],[-45.3,16],[-24.5,49],[-27.5,47.2]];

const tsneNormal = [[-1.55,68.5],[-3.95,66.8],[-5.75,66.1],[-7.85,65.45],[-9.95,66.1],[-11.75,66.5],[-14.15,65.1],[-15.95,63.4],[-18.05,63.4],[-20.1,63],[-20.7,61.3],[-23.7,59.6],[-24.3,57.5],[-26.1,56.15],[-27.3,54.8],[-29.4,51],[-30.9,49.3],[-32.4,52],[-33,49.3],[-35.7,46.8],[-37.2,43.75],[-39.6,45.8],[-41.1,42.4],[-43.5,41],[-45.3,36.9],[-45.6,34.8],[-47.4,35.5],[-50.7,33.4],[-48.6,30],[-49.8,26.5],[-52.5,25.85],[-54,22],[-52.5,18.3],[-53.1,21],[-52.5,15.5],[-51,13.1],[-50.4,10],[-47.7,10.7],[-48.9,7.25],[-45.3,7.25],[-47.7,4.85],[-43.2,3.5],[-44.7,5.9],[-42.9,1.75],[-38.7,-.65],[-39.9,-3.1],[-36,-3.1],[-33,-4.1],[-34.5,-7.5],[-32.1,-8.6],[-28.5,-7.9],[-26.7,-10],[-24.3,-11.7],[-21.6,-13.4],[-19.5,-12],[-17.1,-12],[-14.45,-12.4],[-10.85,-11.3],[-7.55,-12.7],[-6.95,-10.6],[-3.95,-8.6],[-.95,-8.2],
[1.75,67.5],[4.4,65.95],[8.2,63.2],[10.4,61.6],[14.7,60.4],[16.6,58.8],[18.45,56.65],[18.7,53.9],[20.3,53.6],[22.2,51.7],[23,48.3],[24.9,45.5],[26.3,43.65],[27.1,41.2],[26.5,39.3],[28.2,37.5],[30.85,36.5],[31.1,33.7],[31.7,31.25],[32.5,28.8],[32.2,25.7],[32.5,23.8],[31.7,21.5],[30.6,20],[29.8,18.85],[28.7,17],[28.7,13.9],[28.2,11.7],[28.7,9.6],[25.2,8.3],[23.85,6.5],[21.7,4.6],[23.85,2.45],[16,.3],[17.9,-2.5],[13.6,-2.2],[13.9,-4.7],[11.4,-5.9],[9.55,-5.9],[6.9,-4.4],[5,-5.3],[2.3,-6.55],[.12,-9],[3.6,-9.6],[-30.5,-7.5],[-40.8,-1.8],[-37.2,-2.4],[-35,-5.5],[6.2,64.6],[12.5,60.9],[27,42.5],
[-12.9,66.3],[-6.8,65.8],[-2.7,67.6],[-17,63.4],[-19,63.2],[-22.2,60.5],[-25.2,56.8],[-28.3,53],[-31.6,50.6],[-34.4,48],[-36.5,45.3],[-38.4,44.7],[-40.3,44],[-42.3,41.7],[-44.4,39],[-46.5,35.2],[-49,34.4],[-49.2,28.2],[-51.2,26.2],[-53.2,24],[-53.8,20],[-52.8,17],[-51.8,14.3],[-50.7,11.5],[-49.3,9],[-47.5,8],[-46.5,6],[-46.2,2.8],[-44.7,2.5],[-41,.6],[-37.3,-1.8],[-34.5,-3.6],[-34,-5.8],[-33.3,-8],[-30.3,-8.2],[-27.6,-9],[-25.5,-10.8],[-23,-12.5],[-20.5,-12.7],[-18.3,-12],[-15.8,-12.2],[-12.7,-11.8],[-9.2,-12],[-5.5,-9.6],[-2.4,-8.4],[.5,-8.6],[3,-8],[4.2,-6],[6,-4.8],[8.2,-5.1],[10.5,-5.9],[12.6,-3.4],[14.8,-1],[17,-1.2],[18.8,.8],[20.5,2.3],[22.7,3.6],[24.5,7.4],[26.5,9],[28.4,10.7],[28.4,12.8],[28.7,15.5],[29.2,18],[32.5,26.7],[32,30],[31.4,32.5],[31,35],[29.5,37],[27.4,38.3],[26.8,40.2],[25.6,44.6],[24,46.9],[22.6,50],[21.3,52.6],[19.5,55],[17.5,57.8],[15.7,59.6],[12.6,61],[9.3,62.4],[7.3,64],[5.2,65.3],[3,66.7],[.2,68]];

const tsneUnbalance = [[-3.35,69.8],[-3.95,67.85],[-1.25,67.85],[-6.3,68.55],[-9,68.4],[-8.1,66.8],[-11.15,67.2],[-16.55,66.5],[-15.35,64.4],[-17.1,63.4],[-18.6,63.7],[-19.5,60.6],[-21,60.3],[-22.5,59.2],[-21,57.9],[-24,57.2],[-25.8,56.8],[-25.8,54.1],[-28.5,55.8],[-30,55.45],[-30.9,54.1],[-27.6,53.05],[-31.2,52],[-32.1,49.95],[-34.8,49.45],[-32.1,47.75],[-38.1,47.4],[-40.5,45.8],[-35.7,44.8],[-37.8,44.8],[-42,44.45],[-39.6,43.05],[-44.1,42.4],[-41.7,42],[-45.7,40.3],[-42.3,39.3],[-47.9,39.3],[-44.1,38.1],[-48.5,37.4],[-46.8,36.5],[-49.3,34.8],[-50.4,32.75],[-47.7,31.35],[-49.2,32.05],[-51.7,30.8],[-52.2,28.95],[-49.6,28.5],[-54.2,27.4],[-51.9,26.5],[-52.8,24.15],[-51.2,22.05],[-52.5,21],[-50.7,19.5],[-49.2,17.2],[-51,15.9],[-48.3,15.5],[-50.1,14.1],[-47.1,13.45],[-49.8,11],[-47.7,11.4],[-48.9,8.65],[-47.4,6.9],[-45.9,5.2],[-46.5,3],[-44.7,2.1],[-43.5,-1],[-41.7,.4],[-40.8,-2.4],[-39.9,-1],[-39.9,-5.5],[-37.8,-3.1],[-36.3,-4.45],[-38.1,-6.85],[-35.4,-6.5],[-33,-5.5],[-33,-7.55],[-30.9,-7.2],[-29.2,-5.8],[-25.5,-9.6],[-24,-9.3],[-21.6,-8.9],[-21,-11],[-18.9,-10],[-16.2,-9.6],[-15.9,-11.7],[-14.1,-11.3],[-12,-10],[-10.85,-12],[-9.65,-11],[-5.75,-11],[-6.35,-13],[-4.25,-12.7],[-4.55,-9.6],[-2.75,-8.9],[-1.85,-11],
[.4,68.4],[5,68.75],[6.9,68.1],[9.3,66.6],[7.1,65.95],[6.05,66.3],[2.55,66.4],[1.45,65.95],[8.2,65.65],[11.2,64.1],[6.5,64.1],[12.95,62.7],[11.2,60.1],[12.95,60.1],[15.4,58.8],[15.5,56],[17.4,56.35],[21.85,57.5],[19.3,56],[20.3,54.8],[22.8,54.15],[25.5,53.05],[22.8,51.7],[27.5,50.6],[24.1,49.2],[26.3,48.6],[24.9,47],[28.9,43],[24.55,42.3],[29.5,40.2],[31.3,40.2],[29,38.1],[29.5,36.2],[28.4,35],[30.6,33.4],[28.4,31.9],[30.9,30],[31.9,30],[28.7,29.1],[30.3,28.2],[28.2,27.2],[30,25.05],[29.1,23.3],[29.2,20.4],[31.7,22],[31.4,20.1],[32.3,18.6],[30.3,16.7],[29.5,15.5],[31.7,14.1],[29.5,10.2],[26.5,8.3],[28.2,6.8],[25.5,7.1],[26.5,3.4],[23.85,4],[21.4,3.4],[18.7,1.8],[21.4,0],[19,-.95],[15.8,-.65],[15.5,-2.8],[12.8,-2.8],[13.1,-5.6],[10.4,-2.5],[10.9,-4.4],[9,-4.4],[7.1,-5.3],[7.4,-7.2],[3.6,-6.2],[5.2,-8.4],[3.6,-8.4],[2.3,-10],[.4,-9.6],
[-70.6,-3.9],[-75,-9],[-72.9,-7.2],[-71,-6.85],[-69.15,-6.5],[-67.8,-5.9],[-66.45,-7.5],[-64.6,-6.7],[-64,-7.8],[-65.9,-8.4],[-67,-9.6],[-72.9,-9],[-71,-9],[-69.4,-9.6],[-74,-10.6],[-72.1,-10.9],[-70,-11.2],[-72.4,-12.7],[-70.8,-13],[-68.9,-13.4],[-73.7,-14.1],[-71.6,-14.6],[-70,-14.3],[-72.4,-16.8],[-71.3,-16.45],[-68.9,-17.1],[-66.7,-15.8],[-64.8,-16.1],[-67.8,-18.6],[-66.2,-19.55],[-65.9,-17.4],[-63.5,-17.4],[-62.1,-17.7],[-64.3,-19.55],[-62.8,-21.7],[-61.9,-19.9],[-60.5,-21.4],[-60,-18.9],[-58.9,-18],[-57.2,-17.7],[-57.6,-19.9],[-57.3,-21.7],[-55.1,-22],[-55.7,-19.55],[-53.5,-19.2],[-52.2,-20.8],[-50.5,-22],[-51.6,-23.3],[-49.7,-25.1],[-47.9,-22.65],[-46.2,-23.3],[-47.6,-24.8],[-48.6,-26.1],[-43.7,-24.7],[-45.4,-26.1],[-47,-27.3],[-43.9,-27.7],[-45.4,-29.2],[-47.6,-29.2],[-45.2,-29.8],[-48.1,-31],[-50,-32.25],[-46.2,-32.25],[-47.6,-33.5],[-45.7,-34.4],[-49.2,-34.7],[-47.3,-35.7],[-49.2,-36.6],[-47.15,-37.2],[-51.9,-34.4],[-51.4,-38.1],[-53.25,-38.8],[-52.7,-36.6],[-54.6,-36.3],[-54.05,-34.4],[-56.2,-34.1],[-57,-36.3],[-58.7,-37.5],[-58.1,-34.1],[-58.4,-31.6],[-60.5,-31.6],[-62,-33.5],[-61.9,-34.7],[-59.7,-34.4],
[-1.3,-53.3],[-1.7,-49.6],[-3,-46.15],[-5,-43.2],[-7.6,-40.9],[-10.6,-39.5],[-13.9,-39],[-17.2,-39.5],[-20.2,-40.9],[-22.8,-43.2],[-24.8,-46.15],[-26.1,-49.6],[-26.5,-53.3],[-26.1,-57],[-24.8,-60.45],[-22.8,-63.4],[-20.2,-65.7],[-17.2,-67.1],[-13.9,-67.6],[-10.6,-67.1],[-7.6,-65.7],[-5,-63.4],[-3,-60.45],[-1.7,-57],
[-2.7,-51.6],[-3.5,-48.3],[-4.9,-45.3],[-7,-42.9],[-9.6,-41.2],[-12.4,-40.3],[-15.4,-40.3],[-18.2,-41.2],[-20.8,-42.9],[-22.9,-45.3],[-24.3,-48.3],[-25.1,-51.6],[-25.1,-55],[-24.3,-58.3],[-22.9,-61.3],[-20.8,-63.7],[-18.2,-65.4],[-15.4,-66.3],[-12.4,-66.3],[-9.6,-65.4],[-7,-63.7],[-4.9,-61.3],[-3.5,-58.3],[-2.7,-55],
[-3.8,-53.3],[-4.1,-50.2],[-5.15,-47.3],[-6.75,-44.8],[-8.85,-42.9],[-11.3,-41.7],[-13.9,-41.3],[-16.5,-41.7],[-18.95,-42.9],[-21.05,-44.8],[-22.65,-47.3],[-23.65,-50.2],[-24,-53.3],[-23.65,-56.4],[-22.65,-59.3],[-21.05,-61.8],[-18.95,-63.7],[-16.5,-64.9],[-13.9,-65.3],[-11.3,-64.9],[-8.85,-63.7],[-6.75,-61.8],[-5.15,-59.3],[-4.1,-56.4],
[-1.6,-51.4],[-2.4,-47.9],[-4.1,-44.65],[-6.35,-42],[-9.15,-40.2],[-12.3,-39.2],[-15.5,-39.2],[-18.65,-40.2],[-21.45,-42],[-23.7,-44.65],[-25.4,-47.9],[-26.2,-51.4],[-26.2,-55.2],[-25.4,-58.7],[-23.7,-61.95],[-21.45,-64.6],[-18.65,-66.4],[-15.5,-67.4],[-12.3,-67.4],[-9.15,-66.4],[-6.35,-64.6],[-4.1,-61.95],[-2.4,-58.7],[-1.6,-55.2],
[-3.8,-51.7],[-4.5,-48.6],[-5.8,-45.9],[-7.7,-43.6],[-10,-42],[-12.6,-41.2],[-15.2,-41.2],[-17.8,-42],[-20.1,-43.6],[-22,-45.9],[-23.3,-48.6],[-24,-51.7],[-24,-54.9],[-23.3,-58],[-22,-60.7],[-20.1,-63],[-17.8,-64.6],[-15.2,-65.4],[-12.6,-65.4],[-10,-64.6],[-7.7,-63],[-5.8,-60.7],[-4.5,-58],[-3.8,-54.9],
[-2.6,-53.3],[-3,-49.9],[-4.1,-46.75],[-5.9,-44],[-8.25,-41.95],[-11,-40.65],[-13.9,-40.2],[-16.8,-40.65],[-19.55,-41.95],[-21.9,-44],[-23.7,-46.75],[-24.8,-49.9],[-25.2,-53.3],[-24.8,-56.7],[-23.7,-59.85],[-21.9,-62.6],[-19.55,-64.65],[-16.8,-65.95],[-13.9,-66.4],[-11,-65.95],[-8.25,-64.65],[-5.9,-62.6],[-4.1,-59.85],[-3,-56.7],
[-15.3,-36.3],[-6.8,-39.5],[-2.2,-45.6],[-1.05,-47.6],[-.5,-50.2],[-10.8,-69.7],[-7.95,-66.8],[-5,-64.5],[-20.1,-66],[-3.4,-61.7],[-1.2,-57],[-27.1,-58.6],[-21.7,-50.8]];

const palette = ['#0077B6','#FF8000','#009E11','#F92325'];
const pcaSets = [pcaBpfi, pcaMisalignment, pcaNormal, pcaUnbalance];
const tsneSets = [tsneBpfi, tsneMisalignment, tsneNormal, tsneUnbalance];

const FONT = '"DejaVu Sans"', TXT = '#262626', LINE = '#555';
const minus = v => String(v).replace('-', '\u2212');
function axis(grid, min, max, ticks, gap, label, nameSize, margin) {
  return {type:'value', gridIndex:grid, min, max, scale:true, splitLine:{show:false},
    name:label, nameLocation:'middle', nameGap:gap,
    nameTextStyle:{fontFamily:FONT,fontSize:nameSize,color:TXT},
    axisLine:{show:false,onZero:false},
    axisTick:{show:true,length:8,inside:false,lineStyle:{color:LINE,width:2},customValues:ticks},
    axisLabel:{customValues:ticks,formatter:minus,fontFamily:FONT,fontSize:25,color:TXT,margin}};
}
function legend(left, top, gap, pad) {
  return {data:categories, left, top, orient:'vertical', selectedMode:false, icon:'circle',
    itemWidth:18, itemHeight:18, itemGap:gap, padding:pad,
    backgroundColor:'#fff', borderColor:'#d8d8d8', borderWidth:2, borderRadius:6,
    textStyle:{fontFamily:FONT,fontSize:25,color:TXT,padding:[0,0,0,34]}};
}
function caption(letter, left) {
  return {text:'{p|(}{b|'+letter+'}{p|)}', left, top:1392, textAlign:'center',
    textStyle:{rich:{p:{fontFamily:'"Liberation Serif"',fontSize:67,color:'#000'},
                     b:{fontFamily:'"Liberation Serif"',fontSize:67,fontWeight:'bold',color:'#000'}}}};
}
const series = [];
pcaSets.forEach((d,i)=>series.push({name:categories[i],type:'scatter',xAxisIndex:0,yAxisIndex:0,data:d,symbolSize:19,itemStyle:{color:palette[i],opacity:1},silent:true}));
tsneSets.forEach((d,i)=>series.push({name:categories[i],type:'scatter',xAxisIndex:1,yAxisIndex:1,data:d,symbolSize:19,itemStyle:{color:palette[i],opacity:1},silent:true}));

const chart = echarts.init(document.getElementById('c'));
chart.setOption({
  animation:false, backgroundColor:'#fff',
  title:[
    {text:'PCA features KAIST Dataset',left:845,top:41,textAlign:'center',textStyle:{fontFamily:FONT,fontSize:31,fontWeight:'normal',color:TXT}},
    {text:'t-SNE features KAIST Dataset',left:2505,top:53,textAlign:'center',textStyle:{fontFamily:FONT,fontSize:31,fontWeight:'normal',color:TXT}},
    caption('a',796), caption('b',2450)
  ],
  grid:[
    {left:121,top:85,width:1459,height:1161.5,show:true,borderColor:LINE,borderWidth:2.5,backgroundColor:'#fff'},
    {left:1797,top:98,width:1421,height:1136,show:true,borderColor:LINE,borderWidth:2.5,backgroundColor:'#fff'}
  ],
  xAxis:[axis(0,-3.97,7.34,pcaXTicks,56,'component 1',26.5,17), axis(1,-82.44,84.44,tsneXTicks,57,'component 1',25.5,16)],
  yAxis:[axis(0,-4.18,4.91,pcaYTicks,67,'component 2',26.5,20), axis(1,-76.65,76.65,tsneYTicks,88,'component 2',25.5,20)],
  legend:[legend(1297,98,14,[13,10,12,27]), legend(2948,112,13,[11,10,11,27])],
  series
});
</script></body></html>
